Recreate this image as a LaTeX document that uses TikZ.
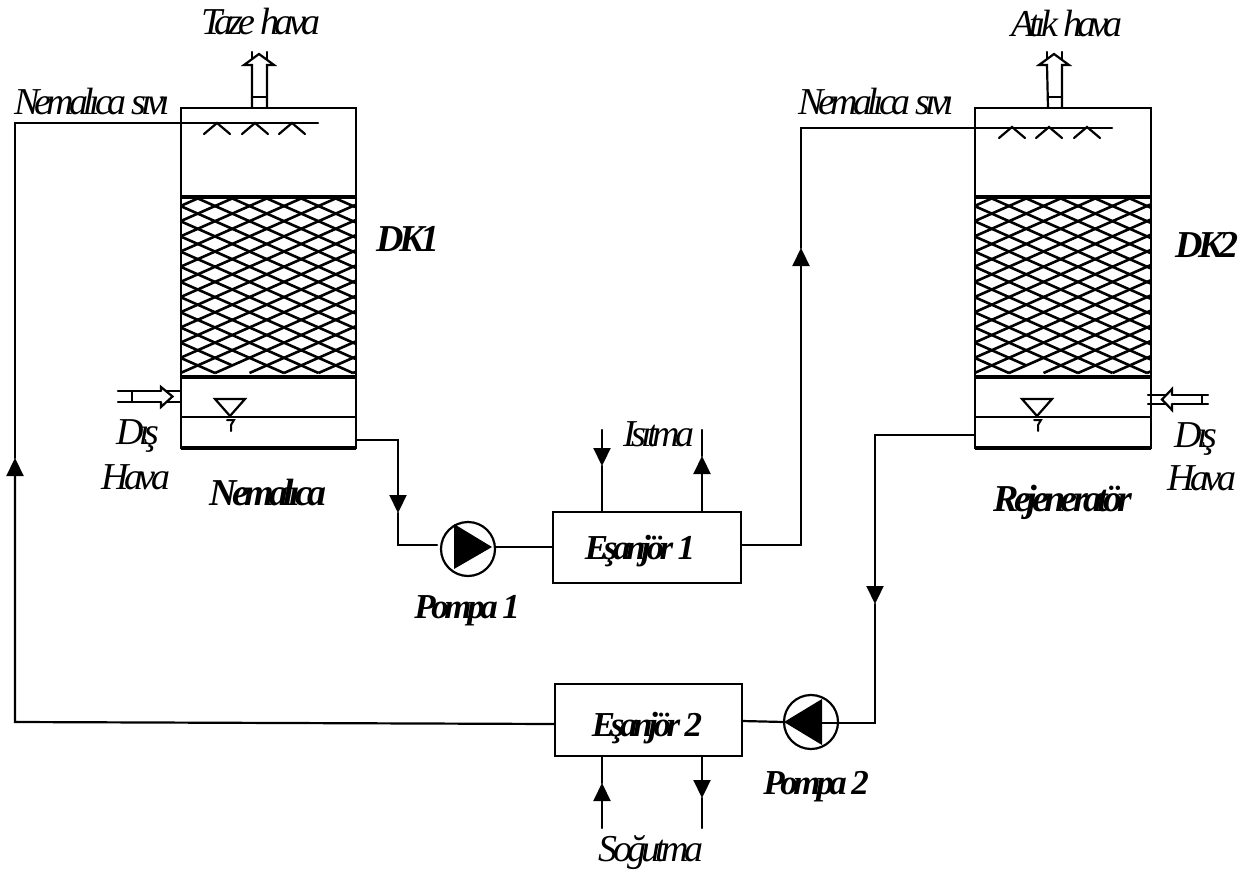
\documentclass[tikz,border=0pt]{standalone}
\usepackage{fontspec}
\setmainfont[LetterSpace=-12.5]{Liberation Serif}
\usetikzlibrary{arrows.meta}
\tikzset{
  line/.style={line width=2.2pt,draw=black,line cap=round,line join=miter},
  thick line/.style={line width=3.2pt,draw=black},
  flow/.style={line,-{Triangle[length=18pt,width=17pt]}},
  box/.style={line,rectangle,fill=white,inner sep=0pt,outer sep=0pt},
  pumpbody/.style={line,circle,minimum size=54pt,inner sep=0pt,outer sep=0pt},
  lbl/.style={anchor=base,inner sep=0pt,font=\fontsize{38}{42}\selectfont\itshape},
  bld/.style={anchor=base,inner sep=0pt,font=\fontsize{38}{42}\selectfont\bfseries\itshape},
  bldsmall/.style={anchor=base,inner sep=0pt,font=\fontsize{35}{42}\selectfont\bfseries\itshape},
  mesh/.style={line width=2.6pt,draw=black}
}
\newcommand{\latticeat}[1]{%
  \begin{scope}[xshift=#1pt]
    \clip (181,197) rectangle (356,377);
    \foreach \k in {-12,...,16}{
      \pgfmathsetmacro{\xo}{215+34.5*\k}
      \draw[mesh] (\xo,373) -- ++(440,-193.6);
      \ifnum\k=1
        \draw[mesh] (\xo-17.25,373-7.6) -- ++(-420,-184.8);
      \else
        \draw[mesh] (\xo,373) -- ++(-440,-193.6);
      \fi
    }
  \end{scope}}
\newcommand{\sprayat}[2]{\draw[line] (#1-13,#2+11) -- (#1,#2) -- (#1+13,#2+11);}
\newcommand{\levelat}[3]{%
  \draw[line] (#1-15,#2) -- (#1+15,#2) -- (#1,#3) -- cycle;
  \draw[line,line width=2pt] (#1-3,#3+4) -- (#1+4,#3+4) -- (#1+1,#3+9) -- (#1+1,#3+15);}
\begin{document}
\begin{tikzpicture}[x=1pt,y=-1pt]
\useasboundingbox (0,0) rectangle (1252,872);
\fill[white] (0,0) rectangle (1252,872);

% towers
\node[box,minimum width=175pt,minimum height=340pt] (t1) at (268.5,278) {};
\node[box,minimum width=176pt,minimum height=340pt] (t2) at (1063,278) {};
\latticeat{0}
\latticeat{794}
\draw[thick line] (181,197) -- (356,197) (181,377) -- (356,377);
\draw[thick line] (975,197) -- (1151,197) (975,377) -- (1151,377);
\draw[line,line width=2pt] (t1.west |- 0,416.5) -- (t1.east |- 0,416.5);
\draw[line,line width=2pt] (t2.west |- 0,416.5) -- (t2.east |- 0,416.5);
\draw[thick line] (t1.south west) -- (t1.south east) (t2.south west) -- (t2.south east);
\draw[line] (t1.south west) rectangle (t1.north east);
\draw[line] (t2.south west) rectangle (t2.north east);

% level marks
\levelat{230}{399}{416}
\levelat{1037}{399}{416}

% spray heads
\sprayat{217}{123}\sprayat{255}{123}\sprayat{292}{123}
\sprayat{1012}{127}\sprayat{1049}{127}\sprayat{1087}{127}

% exhaust stacks
\draw[line] (252,108) -- (252,65) -- (244,65) -- (259,54) -- (274,65) -- (267,65) -- (267,108);
\draw[line] (252,97) -- (267,97) (252,52) -- (252,59) (267,52) -- (267,59);
\draw[line] (1048,108) -- (1047,65) -- (1039,65) -- (1054,54) -- (1069,65) -- (1062,65) -- (1062,108);
\draw[line] (1048,97) -- (1062,97) (1047,52) -- (1047,59) (1062,52) -- (1062,59);

% air inlets
\draw[line] (118,391) -- (181,391) (118,402) -- (181,402) (132,391) -- (132,402);
\draw[line,fill=white] (161,391) -- (161,387) -- (172.5,396.5) -- (161,407) -- (161,402);
\draw[line] (1148,395) -- (1208,395) (1148,404) -- (1208,404) (1202,395) -- (1202,404);
\draw[line,fill=white] (1172,395) -- (1172,389) -- (1162,399.5) -- (1172,410) -- (1172,404);

% exchangers and pumps
\node[box,minimum width=188pt,minimum height=71pt] (ex1) at (647,547.5) {};
\node[box,minimum width=187pt,minimum height=72pt] (ex2) at (648.5,720) {};
\node[pumpbody] (p1) at (468,549) {};
\node[pumpbody] (p2) at (811,722) {};
\fill (454,524) -- (492,547) -- (454,569) -- cycle;
\fill (822,699) -- (822,745) -- (784,722) -- cycle;

% named free ends
\coordinate (a1) at (398,513);
\coordinate (a2) at (801,248);
\coordinate (a3) at (875,604);
\coordinate (a4) at (15,458);
\coordinate (h1s) at (602,430);
\coordinate (h1t) at (602,466);
\coordinate (h2s) at (702,430);
\coordinate (h2t) at (702,456);
\coordinate (c1s) at (602,828);
\coordinate (c1t) at (602,783);
\coordinate (c2s) at (702,828);
\coordinate (c2t) at (702,798);

% pipes, circuit 1
\draw[flow] (356,440) -- (398,440) -- (a1);
\draw[line] (a1) -- (398,545) -- (437,545);
\draw[line] (p1.east |- 0,547) -- (ex1.west |- 0,547);
\draw[flow] (ex1.east |- 0,545) -- (801,545) -- (a2);
\draw[line] (a2) -- (801,128) -- (1112,128);
% pipes, circuit 2
\draw[flow] (t2.west |- 0,435) -- (875,435) -- (a3);
\draw[line] (a3) -- (875,723) -- (822,723);
\draw[line] (p2.west) -- (ex2.east |- 0,721);
\draw[flow] (ex2.west |- 0,724) -- (15,722) -- (a4);
\draw[line] (a4) -- (15,123) -- (318,123);

% heating and cooling lines
\draw[flow] (h1s) -- (h1t);
\draw[line] (h1t) -- (ex1.north -| h1t);
\draw[flow] (ex1.north -| h2s) -- (h2t);
\draw[line] (h2t) -- (h2s);
\draw[flow] (c1s) -- (c1t);
\draw[line] (c1t) -- (ex2.south -| c1t);
\draw[flow] (ex2.south -| c2s) -- (c2t);
\draw[line] (c2t) -- (c2s);

% labels
\node[lbl] (l1) at (261,35) {Taze hava};
\node[lbl] (l2) at (92,114) {Nemalıca sıvı};
\node[lbl] (l3) at (876,115) {Nemalıca sıvı};
\node[lbl] (l4) at (1067,37) {Atık hava};
\node[bld] (l5) at (408,251) {DK1};
\node[bld] (l6) at (1207,257) {DK2};
\node[lbl] (l7) at (138,444) {Dış};
\node[lbl] (l8) at (136,489) {Hava};
\node[bld] (l9) at (268,505) {Nemalıca};
\node[lbl] (l10) at (1196,447) {Dış};
\node[lbl] (l11) at (1202,490) {Hava};
\node[bld] (l12) at (1063,511) {Rejeneratör};
\node[lbl] (l13) at (659,446) {Isıtma};
\node[bldsmall] (l14) at (640,559) {Eşanjör 1};
\node[bldsmall] (l15) at (467,618) {Pompa 1};
\node[bldsmall] (l16) at (647,736) {Eşanjör 2};
\node[bldsmall] (l17) at (816,794) {Pompa 2};
\node[lbl] (l18) at (651,861) {Soğutma};
\end{tikzpicture}
\end{document}
